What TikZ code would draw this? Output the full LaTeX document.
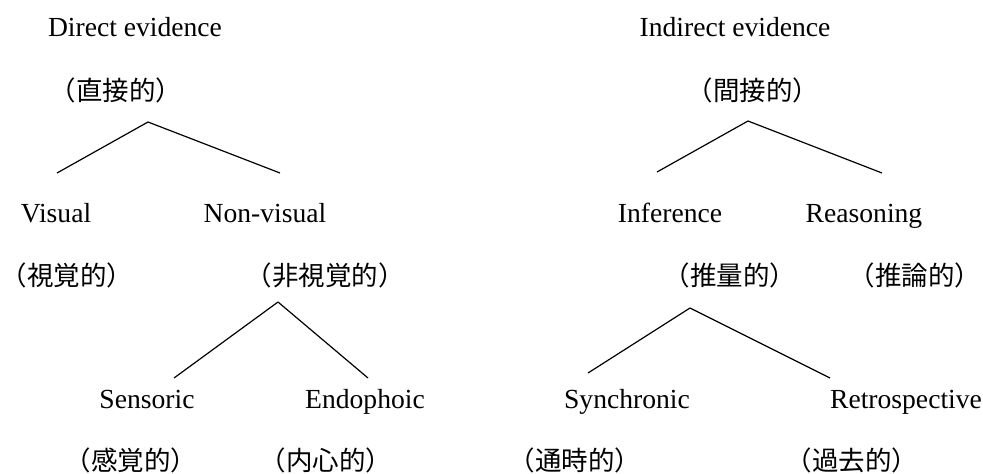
\documentclass[tikz,border=0pt]{standalone}
\usepackage{fontspec}
\setmainfont{Liberation Serif}
\newfontfamily\jpfont{Noto Sans CJK JP}
\begin{document}
\begin{tikzpicture}[x=1pt,y=-1pt,
  lbl/.style={anchor=base,inner sep=0pt,font=\fontsize{27.6}{30}\selectfont},
  jp/.style={lbl,font=\fontsize{26.5}{30}\selectfont\jpfont}]
\useasboundingbox (0,0) rectangle (983,474);

\node[lbl] (direct) at (135,36) {Direct evidence};
\node[jp] (direct-jp) at (116,100) {（直接的）};
\node[lbl] (visual) at (56,222) {Visual};
\node[jp] (visual-jp) at (67,285) {（視覚的）};
\node[lbl] (nonvisual) at (265,222) {Non-visual};
\node[jp] (nonvisual-jp) at (325,285) {（非視覚的）};
\node[lbl] (sensoric) at (147,408) {Sensoric};
\node[jp] (sensoric-jp) at (131,470) {（感覚的）};
\node[lbl] (endophoic) at (365,408) {Endophoic};
\node[jp] (endophoic-jp) at (326,470) {（内心的）};

\node[lbl] (indirect) at (735,36) {Indirect evidence};
\node[jp] (indirect-jp) at (753,100) {（間接的）};
\node[lbl] (inference) at (670,222) {Inference};
\node[jp] (inference-jp) at (730,285) {（推量的）};
\node[lbl] (reasoning) at (864,222) {Reasoning};
\node[jp] (reasoning-jp) at (915,285) {（推論的）};
\node[lbl] (synchronic) at (627,408) {Synchronic};
\node[jp] (synchronic-jp) at (575,470) {（通時的）};
\node[lbl] (retro) at (906,408) {Retrospective};
\node[jp] (retro-jp) at (852,470) {（過去的）};

\coordinate (direct-top) at (148,122);
\coordinate (visual-end) at (57,173);
\coordinate (nonvisual-end) at (280,173);
\coordinate (nonvisual-top) at (278,302);
\coordinate (sensoric-end) at (174,378);
\coordinate (endophoic-end) at (368,378);

\coordinate (indirect-top) at (748,121);
\coordinate (inference-end) at (657,172);
\coordinate (reasoning-end) at (882,173);
\coordinate (inference-top) at (690,308);
\coordinate (synchronic-end) at (588,373);
\coordinate (retro-end) at (830,378);

\path[draw,line width=1.2pt] (direct-top) -- (visual-end);
\path[draw,line width=1.2pt] (direct-top) -- (nonvisual-end);
\path[draw,line width=1.2pt] (nonvisual-top) -- (sensoric-end);
\path[draw,line width=1.2pt] (nonvisual-top) -- (endophoic-end);

\path[draw,line width=1.2pt] (indirect-top) -- (inference-end);
\path[draw,line width=1.2pt] (indirect-top) -- (reasoning-end);
\path[draw,line width=1.2pt] (inference-top) -- (synchronic-end);
\path[draw,line width=1.2pt] (inference-top) -- (retro-end);
\end{tikzpicture}
\end{document}
